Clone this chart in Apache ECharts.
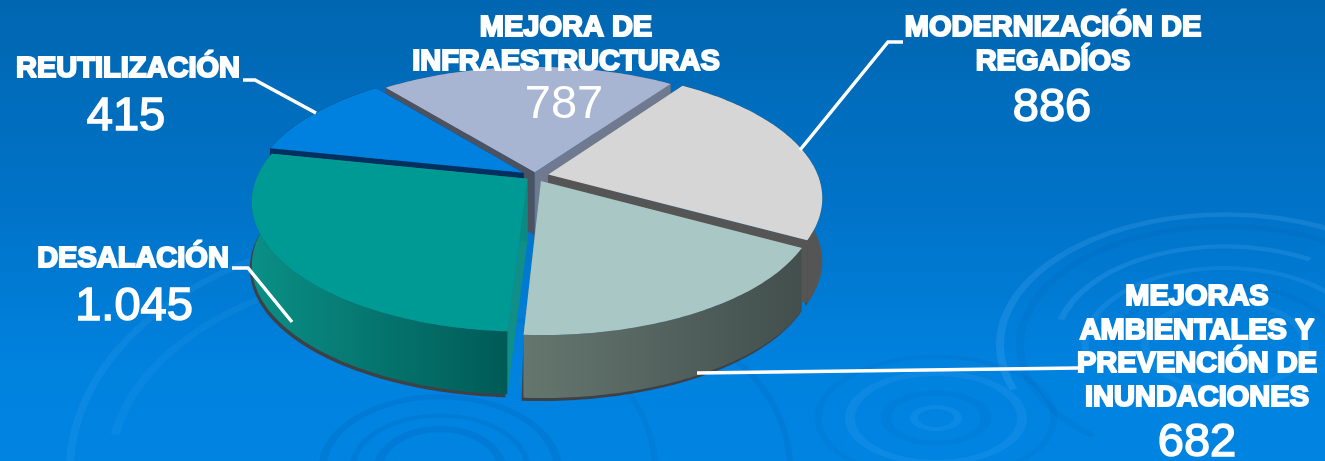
<!DOCTYPE html>
<html><head><meta charset="utf-8">
<style>html,body{margin:0;padding:0;background:#0075cc}#c{width:1325px;height:461px}</style>
<script src="https://cdn.jsdelivr.net/npm/echarts@6/dist/echarts.min.js"></script>
</head><body><div id="c"></div>
<script>
// DATA
const categories = ["MEJORA DE\nINFRAESTRUCTURAS","MODERNIZACIÓN DE\nREGADÍOS","MEJORAS\nAMBIENTALES Y\nPREVENCIÓN DE\nINUNDACIONES","DESALACIÓN","REUTILIZACIÓN"];
const values = [787, 886, 682, 1045, 415];

// STYLE / LAYOUT
const topColors  = ["#a8b5d2","#d6d6d6","#a9c7c5","#009a94","#0080df"];
const wallStops  = [["#6f7a91","#6f7a91"],["#5a5a5a","#555555"],["#65766f","#424f4d"],["#0a8f86","#005a56"],["#00305f","#00305f"]];
const cutColors  = [["#4c5260","#6f7a91"],["#555555","#555555"],["#65766f","#65766f"],["#0f8f88","#0a8a82"],["#00305f","#00305f"]];
const explode    = [0.03,0.05,0.045,0.035,0.05];
const drawRank   = [0,2,4,3,1];
const labelBoxes = [[566,28],[1053,28],[1197,297],[133,259],[128,69]];
const valueBoxes = [[564,105],[1052,108],[1197,443],[134,307],[126,117]];
const leaders    = [null,[[903,42],[888,42],[800,150]],[[697,373],[1078,368]],[[232,268],[248,268],[292,322]],[[243,80],[255,80],[316,113]]];
const rings = [
 [1225,345,225,0.58,160,345,"rgba(120,195,255,.16)",8],[1225,345,205,0.58,130,330,"rgba(0,90,170,.13)",8],
 [1225,345,170,0.58,195,300,"rgba(120,195,255,.16)",7],[1225,345,140,0.55,170,350,"rgba(120,195,255,.12)",7],
 [1225,345,110,0.55,160,360,"rgba(0,90,170,.10)",8],[1225,345,80,0.55,0,360,"rgba(120,195,255,.10)",8],
 [936,418,118,0.52,0,360,"rgba(0,90,170,.12)",7],[936,418,86,0.52,0,360,"rgba(120,195,255,.10)",10],[936,418,50,0.5,0,360,"rgba(0,90,170,.10)",10],[936,418,22,0.5,0,360,"rgba(120,195,255,.10)",8],
 [440,470,118,0.62,180,360,"rgba(0,90,170,.20)",8],[440,470,88,0.62,180,360,"rgba(0,90,170,.18)",6],[440,470,62,0.66,180,360,"rgba(0,90,170,.20)",9],
 [440,470,370,0.66,180,250,"rgba(120,195,255,.09)",8],[440,470,330,0.62,190,240,"rgba(120,195,255,.07)",9],[440,470,215,0.75,290,360,"rgba(0,90,170,.14)",6],
 [640,470,150,0.95,280,360,"rgba(0,90,170,.15)",6]
];
const CX = 535, CY = 176, RX = 270, RY = 125, K = 0.176, H = 63, START = -39;

const fmt = v => String(v).replace(/\B(?=(\d{3})+$)/g, ".");
const total = values.reduce((a, b) => a + b, 0);

function project(u, v) {
  const d = 1 - K * v;
  return [CX + RX * u / d, CY + RY * v / d];
}
function sliceGeom(i) {
  let a0 = START;
  for (let j = 0; j < i; j++) a0 += values[j] / total * 360;
  const a1 = a0 + values[i] / total * 360;
  const mid = (a0 + a1) / 2 * Math.PI / 180;
  const eu = explode[i] * Math.sin(mid), ev = -explode[i] * Math.cos(mid);
  const pt = deg => { const t = deg * Math.PI / 180; return project(Math.sin(t) + eu, -Math.cos(t) + ev); };
  const arc = [];
  for (let d = a0; d < a1; d += 1) arc.push(pt(d));
  arc.push(pt(a1));
  return { apex: project(eu, ev), arc, back: Math.cos(mid) > 0.3 };
}
const down = (p, dx, dy) => [p[0] + dx, p[1] + dy];

function renderItem(params, api) {
  const i = params.dataIndex;
  const val = api.value(0);
  const g = sliceGeom(i);
  const base = drawRank[i] * 10;
  const kids = [];
  const wall = g.arc.concat(g.arc.slice().reverse().map(p => down(p, 0, H)));
  const xs = g.arc.map(p => p[0]);
  const x0 = Math.min.apply(null, xs), x1 = Math.max.apply(null, xs);
  // ground shadow edge
  kids.push({ type: 'polygon', z2: base, shape: { points: g.arc.concat(g.arc.slice().reverse().map(p => down(p, -2, H + 3))) }, style: { fill: '#3d4145' } });
  // cut faces
  const a = g.apex, s = g.arc[0], e = g.arc[g.arc.length - 1];
  kids.push({ type: 'polygon', z2: base + 1, shape: { points: [a, s, down(s, 0, H), down(a, 0, H)] }, style: { fill: cutColors[i][0] } });
  kids.push({ type: 'polygon', z2: base + 1, shape: { points: [a, e, down(e, 0, H), down(a, 0, H)] }, style: { fill: cutColors[i][1] } });
  // outer wall: behind the cut faces on back slices, in front of them otherwise
  kids.push({ type: 'polygon', z2: g.back ? base : base + 2, shape: { points: wall }, style: {
    fill: { type: 'linear', global: true, x: x0, y: 0, x2: x1, y2: 0, colorStops: [
      { offset: 0, color: wallStops[i][0] }, { offset: 1, color: wallStops[i][1] }] } } });
  // top face
  kids.push({ type: 'polygon', z2: base + 3, shape: { points: [a].concat(g.arc) }, style: { fill: topColors[i] } });
  // leader
  if (leaders[i]) kids.push({ type: 'polyline', z2: 100, shape: { points: leaders[i] }, style: { stroke: '#fff', lineWidth: 3.5, fill: null } });
  // labels
  const lines = categories[i].split("\n");
  lines.forEach((t, n) => kids.push({ type: 'text', z2: 110, style: {
    text: t, x: labelBoxes[i][0], y: labelBoxes[i][1] + n * 33.7, align: 'center', verticalAlign: 'middle',
    font: 'bold 29px "Liberation Sans"', fill: '#fff', stroke: '#fff', lineWidth: 2 } }));
  kids.push({ type: 'text', z2: 110, style: {
    text: fmt(val), x: valueBoxes[i][0], y: valueBoxes[i][1], align: 'center', verticalAlign: 'middle',
    font: '47px "Liberation Sans"', fill: '#fff', stroke: '#fff', lineWidth: i === 0 ? 0 : 1.5 } });
  return { type: 'group', children: kids };
}

const chart = echarts.init(document.getElementById('c'), null, { renderer: 'canvas' });
chart.setOption({
  animation: false,
  backgroundColor: { type: 'linear', x: 0, y: 0, x2: 0, y2: 1, colorStops: [
    { offset: 0, color: '#0066b1' }, { offset: 0.45, color: '#0073c8' }, { offset: 0.8, color: '#0082df' }, { offset: 1, color: '#0084e2' }] },
  graphic: { elements: rings.map(r => ({
    type: 'arc', silent: true, x: r[0], y: r[1], scaleY: r[3],
    shape: { cx: 0, cy: 0, r: r[2], startAngle: r[4] * Math.PI / 180, endAngle: r[5] * Math.PI / 180, clockwise: true },
    style: { stroke: r[6], lineWidth: r[7], fill: null } })) },
  series: [{ type: 'custom', coordinateSystem: 'none', silent: true, renderItem,
    clip: false, data: values.map(v => [v]) }]
});
</script></body></html>
